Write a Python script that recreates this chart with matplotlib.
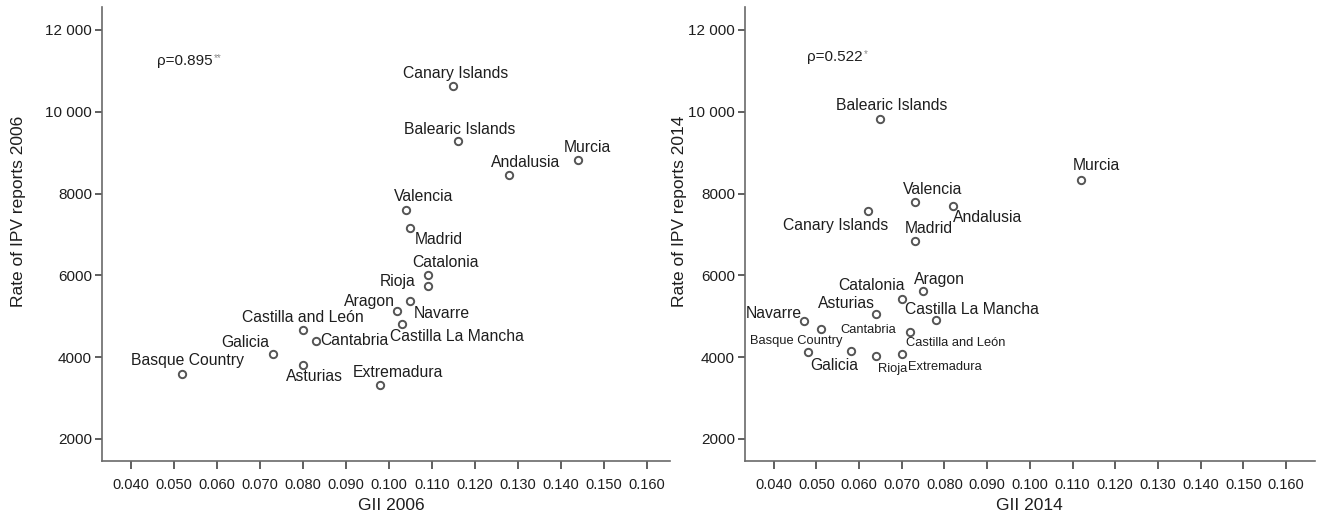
import matplotlib
matplotlib.use('Agg')
import matplotlib.pyplot as plt
from matplotlib.ticker import FixedLocator, FixedFormatter

plt.rcParams['font.family'] = ['Liberation Sans', 'DejaVu Sans']

# ---- data ----
regions_2006 = ['Canary Islands', 'Balearic Islands', 'Murcia', 'Andalusia', 'Valencia',
                'Madrid', 'Catalonia', 'Rioja', 'Aragon', 'Navarre', 'Castilla La Mancha',
                'Castilla and León', 'Cantabria', 'Galicia', 'Asturias', 'Basque Country',
                'Extremadura']
gii_2006 = [0.115, 0.116, 0.144, 0.128, 0.104, 0.105, 0.109, 0.109, 0.102, 0.105, 0.103,
            0.080, 0.083, 0.073, 0.080, 0.052, 0.098]
ipv_2006 = [10630, 9280, 8820, 8460, 7610, 7160, 6000, 5730, 5120, 5370, 4800,
            4670, 4400, 4080, 3810, 3600, 3330]

regions_2014 = ['Balearic Islands', 'Murcia', 'Valencia', 'Andalusia', 'Canary Islands',
                'Madrid', 'Catalonia', 'Aragon', 'Asturias', 'Castilla La Mancha', 'Navarre',
                'Cantabria', 'Castilla and León', 'Basque Country', 'Galicia', 'Rioja',
                'Extremadura']
gii_2014 = [0.065, 0.112, 0.073, 0.082, 0.062, 0.073, 0.070, 0.075, 0.064, 0.078, 0.047,
            0.051, 0.072, 0.048, 0.058, 0.064, 0.070]
ipv_2014 = [9830, 8340, 7800, 7690, 7570, 6850, 5420, 5610, 5050, 4910, 4880,
            4700, 4620, 4130, 4140, 4030, 4070]

rho_2006 = ('ρ=0.895', '**')
rho_2014 = ('ρ=0.522', '*')

x_ticks = [0.04, 0.05, 0.06, 0.07, 0.08, 0.09, 0.10, 0.11, 0.12, 0.13, 0.14, 0.15, 0.16]
x_labels = ['%.3f' % v for v in x_ticks]
y_ticks = [2000, 4000, 6000, 8000, 10000, 12000]
y_labels = ['2000', '4000', '6000', '8000', '10 000', '12 000']

# ---- label placement (offset in pixels: dx right, dy down) ----
offs_2006 = {
    'Canary Islands': (2, -13), 'Balearic Islands': (2, -12), 'Murcia': (9, -13),
    'Andalusia': (16, -12), 'Valencia': (18, -13), 'Madrid': (28, 12),
    'Catalonia': (18, -13), 'Rioja': (-30, -5), 'Aragon': (-28, -10),
    'Navarre': (31, 12), 'Castilla La Mancha': (55, 12), 'Castilla and León': (0, -12),
    'Cantabria': (39, 0), 'Galicia': (-27, -11), 'Asturias': (12, 12),
    'Basque Country': (5, -13), 'Extremadura': (18, -12),
}
offs_2014 = {
    'Balearic Islands': (11, -13), 'Murcia': (15, -14), 'Valencia': (18, -12),
    'Andalusia': (35, 11), 'Canary Islands': (-32, 14), 'Madrid': (14, -12),
    'Catalonia': (-30, -14), 'Aragon': (16, -12), 'Asturias': (-30, -11),
    'Castilla La Mancha': (36, -10), 'Navarre': (-30, -8), 'Cantabria': (48, 1),
    'Castilla and León': (45, 11), 'Basque Country': (-12, -11), 'Galicia': (-16, 14),
    'Rioja': (16, 13), 'Extremadura': (43, 13),
}
small_2014 = ['Cantabria', 'Castilla and León', 'Basque Country', 'Rioja', 'Extremadura']

W, H = 1325, 519
fig = plt.figure(figsize=(W / 100, H / 100), dpi=100)
axis_col = '#6a6a6a'
txt_col = '#1e1e1e'


def panel(rect, gii, ipv, regions, offs, small, rho, rho_pos, xlab, ylab, xlim, ylabel_x, xlabel_x):
    ax = fig.add_axes(rect)
    ax.scatter(gii, ipv, s=28, facecolors='white', edgecolors='#555555', linewidths=1.4, zorder=3)
    for name, gx, gy in zip(regions, gii, ipv):
        dx, dy = offs[name]
        fs = 9.3 if name in small else 11.3
        ax.annotate(name, (gx, gy), xytext=(dx * 0.72, -dy * 0.72), textcoords='offset points',
                    ha='center', va='center', fontsize=fs, color=txt_col)
    t = ax.text(rho_pos[0], rho_pos[1], rho[0], fontsize=11, color=txt_col, va='center', ha='left')
    ax.annotate(rho[1], xy=(1, 1), xycoords=t, xytext=(0.5, 1), textcoords='offset points',
                fontsize=7, color='#8a8a8a', va='top', ha='left')
    ax.set_xlim(*xlim)
    ax.set_ylim(1462, 12562)
    ax.xaxis.set_major_locator(FixedLocator(x_ticks))
    ax.xaxis.set_major_formatter(FixedFormatter(x_labels))
    ax.yaxis.set_major_locator(FixedLocator(y_ticks))
    ax.yaxis.set_major_formatter(FixedFormatter(y_labels))
    for s in ['top', 'right']:
        ax.spines[s].set_visible(False)
    for s in ['left', 'bottom']:
        ax.spines[s].set_color(axis_col)
        ax.spines[s].set_linewidth(1.2)
    ax.tick_params(axis='x', direction='out', length=6, width=1.2, color='#444444',
                   labelsize=10.5, labelcolor=txt_col, pad=6)
    ax.tick_params(axis='y', direction='out', length=5, width=1.2, color='#444444',
                   labelsize=11, labelcolor=txt_col, pad=2)
    ax.set_xlabel(xlab, fontsize=12.5, color=txt_col, va='center')
    ax.set_ylabel(ylab, fontsize=12.5, color=txt_col, va='center')
    ax.xaxis.set_label_coords(xlabel_x, -0.097)
    ax.yaxis.set_label_coords(ylabel_x, 0.55)
    return ax


panel([101.7 / W, 58 / H, 568.3 / W, 454 / H], gii_2006, ipv_2006, regions_2006, offs_2006, [],
      rho_2006, (0.0462, 11242), 'GII 2006', 'Rate of IPV reports 2006', (0.0333, 0.1653), -0.147, 0.51)
panel([744.7 / W, 58 / H, 570.3 / W, 454 / H], gii_2014, ipv_2014, regions_2014, offs_2014, small_2014,
      rho_2014, (0.0478, 11340), 'GII 2014', 'Rate of IPV reports 2014', (0.0332, 0.1668), -0.115, 0.5)

fig.savefig('out.png', dpi=100)
